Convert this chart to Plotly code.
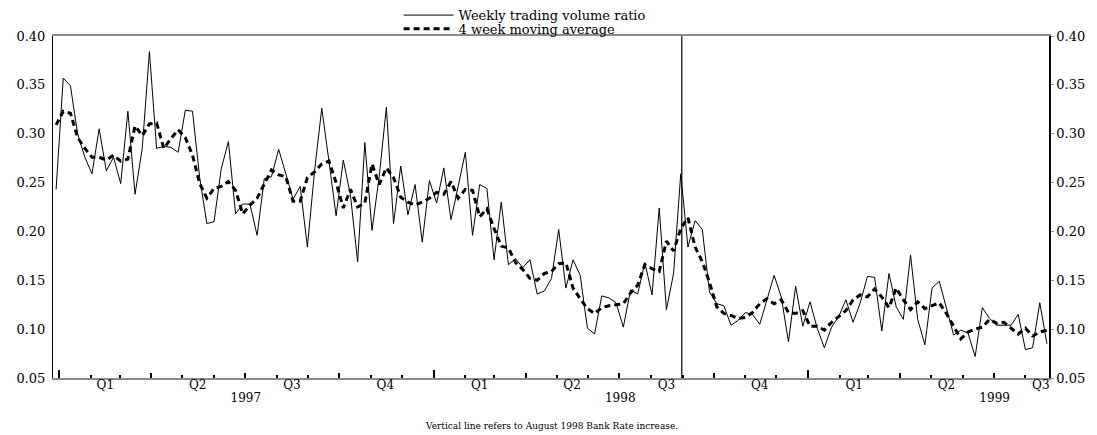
"""Weekly trading volume ratio with its 4 week moving average, 1997-1999."""

import pandas as pd
import plotly.graph_objects as go

# ── Data ─────────────────────────────────────────────────────────────────────

FIRST_WEEK = "1996-12-29"
RATE_RISE = "1998-08-31"

weekly_ratio = [
    0.243, 0.357, 0.349, 0.300, 0.276, 0.259, 0.305, 0.262, 0.276, 0.249,
    0.323, 0.238, 0.285, 0.384, 0.285, 0.287, 0.286, 0.281, 0.324, 0.323,
    0.255, 0.208, 0.210, 0.264, 0.292, 0.218, 0.228, 0.228, 0.196, 0.254,
    0.256, 0.284, 0.259, 0.233, 0.246, 0.184, 0.262, 0.326, 0.272, 0.216,
    0.273, 0.237, 0.169, 0.291, 0.201, 0.256, 0.327, 0.208, 0.267, 0.217,
    0.248, 0.189, 0.252, 0.229, 0.265, 0.212, 0.246, 0.281, 0.196, 0.248,
    0.244, 0.171, 0.230, 0.166, 0.172, 0.163, 0.171, 0.136, 0.139, 0.152,
    0.202, 0.142, 0.171, 0.155, 0.101, 0.095, 0.134, 0.132, 0.127, 0.102,
    0.140, 0.136, 0.168, 0.135, 0.224, 0.120, 0.157, 0.259, 0.184, 0.211,
    0.202, 0.138, 0.126, 0.124, 0.104, 0.109, 0.117, 0.115, 0.105, 0.129,
    0.155, 0.133, 0.087, 0.144, 0.103, 0.128, 0.101, 0.081, 0.102, 0.113,
    0.130, 0.107, 0.127, 0.154, 0.153, 0.098, 0.157, 0.123, 0.110, 0.176,
    0.110, 0.084, 0.142, 0.149, 0.121, 0.094, 0.099, 0.096, 0.072, 0.122,
    0.111, 0.104, 0.104, 0.104, 0.115, 0.079, 0.081, 0.127, 0.085,
]

moving_avg = [
    0.309, 0.323, 0.321, 0.296, 0.285, 0.276, 0.276, 0.273, 0.278, 0.272,
    0.274, 0.308, 0.298, 0.310, 0.311, 0.285, 0.295, 0.304, 0.296, 0.278,
    0.249, 0.234, 0.244, 0.246, 0.251, 0.242, 0.218, 0.227, 0.234, 0.248,
    0.263, 0.258, 0.256, 0.231, 0.231, 0.255, 0.261, 0.269, 0.272, 0.250,
    0.224, 0.243, 0.225, 0.229, 0.269, 0.248, 0.265, 0.255, 0.235, 0.230,
    0.227, 0.230, 0.234, 0.240, 0.238, 0.251, 0.234, 0.243, 0.242, 0.215,
    0.223, 0.203, 0.185, 0.183, 0.168, 0.161, 0.152, 0.150, 0.157, 0.159,
    0.167, 0.168, 0.142, 0.131, 0.121, 0.116, 0.122, 0.124, 0.125, 0.126,
    0.137, 0.145, 0.166, 0.162, 0.159, 0.190, 0.180, 0.203, 0.214, 0.184,
    0.169, 0.148, 0.123, 0.116, 0.114, 0.111, 0.112, 0.117, 0.126, 0.131,
    0.126, 0.130, 0.117, 0.116, 0.119, 0.103, 0.103, 0.099, 0.107, 0.113,
    0.119, 0.130, 0.135, 0.133, 0.141, 0.133, 0.122, 0.142, 0.130, 0.120,
    0.128, 0.121, 0.124, 0.127, 0.116, 0.103, 0.090, 0.097, 0.100, 0.102,
    0.110, 0.106, 0.107, 0.101, 0.095, 0.101, 0.093, 0.097, 0.099,
]

y_ticks = [0.05, 0.10, 0.15, 0.20, 0.25, 0.30, 0.35, 0.40]

quarter_mids = [
    "1997-02-15", "1997-05-16", "1997-08-16", "1997-11-15",
    "1998-02-15", "1998-05-16", "1998-08-16", "1998-11-15",
    "1999-02-15", "1999-05-16", "1999-08-16",
]
quarter_labels = ["Q1", "Q2", "Q3", "Q4", "Q1", "Q2", "Q3", "Q4", "Q1", "Q2", "Q3"]

quarter_starts = [
    "1997-01-01", "1997-04-01", "1997-07-01", "1997-10-01",
    "1998-01-01", "1998-04-01", "1998-07-01", "1998-10-01",
    "1999-01-01", "1999-04-01", "1999-07-01",
]

year_mids = ["1997-07-02", "1998-07-02", "1999-07-02"]
year_labels = ["1997", "1998", "1999"]
year_starts = ["1997-01-01", "1998-01-01", "1999-01-01"]

X_RANGE = ["1996-12-26", "1999-08-24"]
Y_RANGE = [0.05, 0.40]

# ── Style ────────────────────────────────────────────────────────────────────

FONT = "DejaVu Serif, Liberation Serif, serif"
BORDER_GREY = "#8c8c8c"

# the page body keeps its default 8px margin, so the figure is 8px smaller
FIG_W, FIG_H = 1089, 427

weeks = pd.date_range(FIRST_WEEK, periods=len(weekly_ratio), freq="7D")

fig = go.Figure()

fig.add_trace(
    go.Scatter(
        x=weeks, y=weekly_ratio,
        name="Weekly trading volume ratio",
        mode="lines",
        line=dict(color="black", width=1),
        legend="legend",
    )
)
fig.add_trace(
    go.Scatter(
        x=weeks, y=moving_avg,
        name="4 week moving average",
        mode="lines",
        line=dict(color="black", width=3, dash="6px,4px"),
        legend="legend2",
    )
)

# placeholders so the overlay axes (quarter ticks, years, right labels) get drawn
fig.add_trace(go.Scatter(x=[weeks[0]], y=[None], xaxis="x2", yaxis="y2",
                         showlegend=False, hoverinfo="skip"))
fig.add_trace(go.Scatter(x=[weeks[0]], y=[None], xaxis="x3", yaxis="y",
                         showlegend=False, hoverinfo="skip"))

fig.add_vline(x=RATE_RISE, line=dict(color="black", width=1.2))

fig.add_annotation(
    text="Vertical line refers to August 1998 Bank Rate increase.",
    xref="paper", yref="paper", x=0.5, y=-0.14,
    xanchor="center", yanchor="middle", showarrow=False,
    font=dict(family=FONT, size=9, color="black"),
)

legend_common = dict(
    x=0.347, xanchor="left", yanchor="middle",
    bgcolor="rgba(0,0,0,0)", borderwidth=0,
    font=dict(family=FONT, size=13, color="black"),
    itemwidth=50,
)

fig.update_layout(
    width=FIG_W, height=FIG_H,
    paper_bgcolor="white", plot_bgcolor="white",
    margin=dict(l=45, r=48, t=28, b=57, autoexpand=False),
    font=dict(family=FONT, size=12, color="black"),
    showlegend=True,
    legend=dict(y=1.061, **legend_common),
    legend2=dict(y=1.021, **legend_common),
    xaxis=dict(
        type="date", range=X_RANGE, automargin=False,
        tickmode="array", tickvals=quarter_mids, ticktext=quarter_labels,
        ticks="", showline=True, linecolor=BORDER_GREY, linewidth=1.5,
        mirror=True, showgrid=False, zeroline=False,
        tickfont=dict(family=FONT, size=12),
        ticklabelstandoff=-5,
    ),
    xaxis2=dict(
        type="date", overlaying="x", matches="x", anchor="y", side="bottom",
        automargin=False,
        tickmode="array", tickvals=quarter_starts,
        ticks="inside", ticklen=5, tickcolor="black", tickwidth=1.5,
        showticklabels=False, showline=False, showgrid=False, zeroline=False,
        minor=dict(tickmode="linear", tick0="1997-01-01", dtick="M1",
                   ticks="inside", ticklen=3, tickcolor="black", showgrid=False),
    ),
    xaxis3=dict(
        type="date", overlaying="x", matches="x", anchor="y", side="bottom",
        automargin=False,
        tickmode="array", tickvals=year_mids, ticktext=year_labels,
        ticks="", showline=False, showgrid=False, zeroline=False,
        tickfont=dict(family=FONT, size=12),
        ticklabelstandoff=11,
        minor=dict(tickmode="array", tickvals=year_starts,
                   ticks="inside", ticklen=8, tickcolor="black", tickwidth=1.5,
                   showgrid=False),
    ),
    yaxis=dict(
        range=Y_RANGE, automargin=False,
        tickmode="array", tickvals=y_ticks, tickformat=".2f",
        ticks="", showline=True, linecolor="black", linewidth=1,
        showgrid=False, zeroline=False,
        tickfont=dict(family=FONT, size=13),
        ticklabelstandoff=4,
    ),
    yaxis2=dict(
        range=Y_RANGE, overlaying="y", side="right", matches="y",
        automargin=False,
        tickmode="array", tickvals=y_ticks, tickformat=".2f",
        ticks="outside", ticklen=3, tickcolor=BORDER_GREY,
        showline=True, linecolor="black", linewidth=1.5,
        showgrid=False, zeroline=False,
        tickfont=dict(family=FONT, size=13),
    ),
)

fig.write_html("out.html")
